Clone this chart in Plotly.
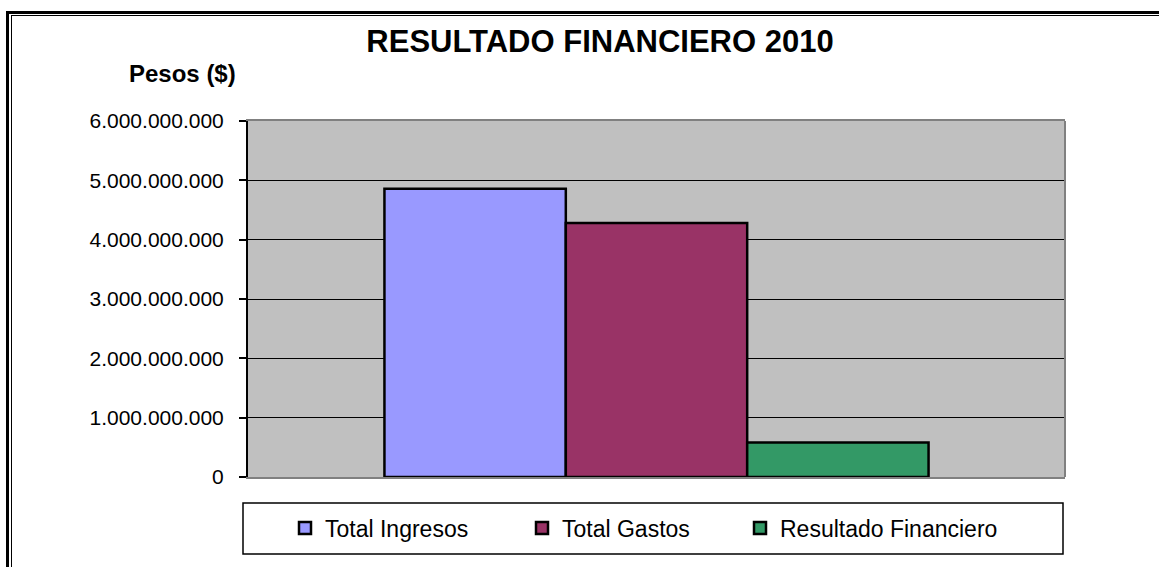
import plotly.graph_objects as go

# ---- data ----
categoria = ["2010"]
series = ["Total Ingresos", "Total Gastos", "Resultado Financiero"]
valores = [4_860_000_000, 4_280_000_000, 580_000_000]
colores = ["#9999FF", "#993366", "#339966"]
titulo = "RESULTADO FINANCIERO 2010"
eje_y = "Pesos ($)"

W, H = 1159, 567
L, R, T, B = 248, 1065, 121, 477  # plot area in pixels
PW, PH = R - L, B - T


def px(xp):
    return (xp - L) / PW


def py(yp):
    return (B - yp) / PH


FONT = "Liberation Sans, Arial, sans-serif"
legend_ids = ["legend", "legend2", "legend3"]
legend_x = [285, 522, 740]

fig = go.Figure()
for name, val, col, lid in zip(series, valores, colores, legend_ids):
    fig.add_trace(go.Bar(
        x=categoria, y=[val], name=name, legend=lid,
        marker=dict(color=col, line=dict(color="black", width=2.5)),
    ))

shapes = [
    # right border of plot area (gray)
    dict(type="line", xref="paper", yref="paper", x0=1, x1=1, y0=0, y1=1,
         line=dict(color="#808080", width=2)),
    # legend box
    dict(type="rect", xref="paper", yref="paper",
         x0=px(243), x1=px(1063), y0=py(554), y1=py(503),
         line=dict(color="black", width=1.5)),
    # outer frame (double line) left and top
    dict(type="line", xref="paper", yref="paper", x0=px(7.5), x1=px(7.5),
         y0=py(567), y1=py(11), line=dict(color="black", width=3)),
    dict(type="line", xref="paper", yref="paper", x0=px(11.5), x1=px(11.5),
         y0=py(567), y1=py(15), line=dict(color="black", width=1)),
    dict(type="line", xref="paper", yref="paper", x0=px(6), x1=px(1159),
         y0=py(12.5), y1=py(12.5), line=dict(color="black", width=3)),
    dict(type="line", xref="paper", yref="paper", x0=px(11), x1=px(1159),
         y0=py(15.5), y1=py(15.5), line=dict(color="black", width=1)),
]


def legend_style(xpix):
    return dict(orientation="h", x=px(xpix), xanchor="left", y=py(528), yanchor="middle",
                font=dict(size=23, color="black", family=FONT),
                bgcolor="rgba(0,0,0,0)", borderwidth=0, itemwidth=30)


fig.update_layout(
    width=W, height=H,
    margin=dict(l=L, r=W - R, t=T, b=H - B),
    paper_bgcolor="white",
    plot_bgcolor="#C0C0C0",
    separators=",.",
    barmode="group",
    bargap=0.334,
    bargroupgap=0,
    font=dict(family=FONT, color="black"),
    title=dict(text="<b>" + titulo + "</b>", xref="container", yref="container",
               x=600 / W, y=1 - 41 / H, xanchor="center", yanchor="middle",
               font=dict(size=31, color="black", family=FONT)),
    showlegend=True,
    legend=legend_style(legend_x[0]),
    legend2=legend_style(legend_x[1]),
    legend3=legend_style(legend_x[2]),
    shapes=shapes,
    annotations=[dict(text="<b>" + eje_y + "</b>", xref="paper", yref="paper",
                      x=px(182.5), y=py(74), xanchor="center", yanchor="middle",
                      showarrow=False, font=dict(size=24, color="black", family=FONT))],
)

fig.update_xaxes(
    type="category", showticklabels=False, ticks="", showgrid=False,
    showline=True, linecolor="#808080", linewidth=2, mirror=True, zeroline=False,
)
fig.update_yaxes(
    range=[0, 6_000_000_000], dtick=1_000_000_000, tickformat=",d",
    showgrid=True, gridcolor="black", gridwidth=1,
    showline=True, linecolor="black", linewidth=2,
    ticks="outside", ticklen=7, tickwidth=2, tickcolor="black",
    ticklabelstandoff=11,
    tickfont=dict(size=21, color="black", family=FONT),
    zeroline=False,
)

fig.write_html("out.html", config={"displayModeBar": False},
               post_script="document.body.style.margin='0';")
